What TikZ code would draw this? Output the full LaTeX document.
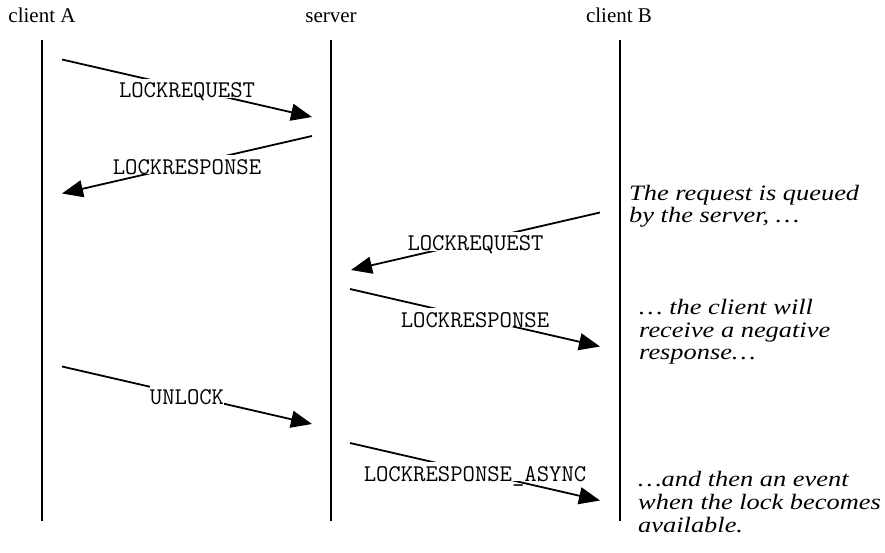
\documentclass[tikz,border=0pt]{standalone}
\usepackage{fontspec}
\setmainfont{Liberation Serif}
\newfontfamily\notefont[FakeStretch=1.2]{Liberation Serif}
\usetikzlibrary{arrows.meta}
\begin{document}
\begin{tikzpicture}[x=1pt,y=-1pt,
  lifeline/.style={line width=1.8pt},
  msg/.style={line width=1.8pt,-{Triangle[length=21pt,width=17pt]}},
  lbl/.style={fill=white,inner sep=0pt,text height=19pt,text depth=0pt,
    anchor=base,yshift=-9.5pt,font=\ttfamily\fontsize{24}{24}\selectfont},
  actor/.style={anchor=base,inner sep=0pt,font=\fontsize{21}{24}\selectfont},
  note/.style={anchor=base west,inner sep=0pt,
    font=\notefont\itshape\fontsize{22}{22.7}\selectfont}
]
\useasboundingbox (0,0) rectangle (885,552);

% participants
\node[actor] (A) at (42,22) {client A};
\node[actor] (S) at (331,22) {server};
\node[actor] (B) at (619,22) {client B};

% lifelines
\coordinate (A0) at (42,40);   \coordinate (A1) at (42,520.5);
\coordinate (S0) at (331,40);  \coordinate (S1) at (331,520.5);
\coordinate (B0) at (620,40);  \coordinate (B1) at (620,520.5);
\draw[lifeline] (A0) -- (A1);
\draw[lifeline] (S0) -- (S1);
\draw[lifeline] (B0) -- (B1);

% message end points
\coordinate (m1s) at (62,59.5);   \coordinate (m1e) at (312,117);
\coordinate (m2s) at (312,136);   \coordinate (m2e) at (62,193.5);
\coordinate (m3s) at (600,212.5); \coordinate (m3e) at (351,270);
\coordinate (m4s) at (350,289);   \coordinate (m4e) at (600,346.5);
\coordinate (m5s) at (62,366.5);  \coordinate (m5e) at (312,424);
\coordinate (m6s) at (350,443);   \coordinate (m6e) at (600,500.5);

% messages
\draw[msg] (m1s) -- node[lbl] (l1) {LOCKREQUEST} (m1e);
\draw[msg] (m2s) -- node[lbl] (l2) {LOCKRESPONSE} (m2e);
\draw[msg] (m3s) -- node[lbl] (l3) {LOCKREQUEST} (m3e);
\draw[msg] (m4s) -- node[lbl] (l4) {LOCKRESPONSE} (m4e);
\draw[msg] (m5s) -- node[lbl] (l5) {UNLOCK} (m5e);
\draw[msg] (m6s) -- node[lbl] (l6) {LOCKRESPONSE\_ASYNC} (m6e);

% notes
\node[note] (n1) at (629,200) {\begin{tabular}[t]{@{}l@{}}The request is queued\\by the server, …\end{tabular}};
\node[note] (n2) at (639,314.3) {\begin{tabular}[t]{@{}l@{}}… the client will\\receive a negative\\response…\end{tabular}};
\node[note] (n3) at (638,486.7) {\begin{tabular}[t]{@{}l@{}}…and then an event\\when the lock becomes\\available.\end{tabular}};
\end{tikzpicture}
\end{document}
